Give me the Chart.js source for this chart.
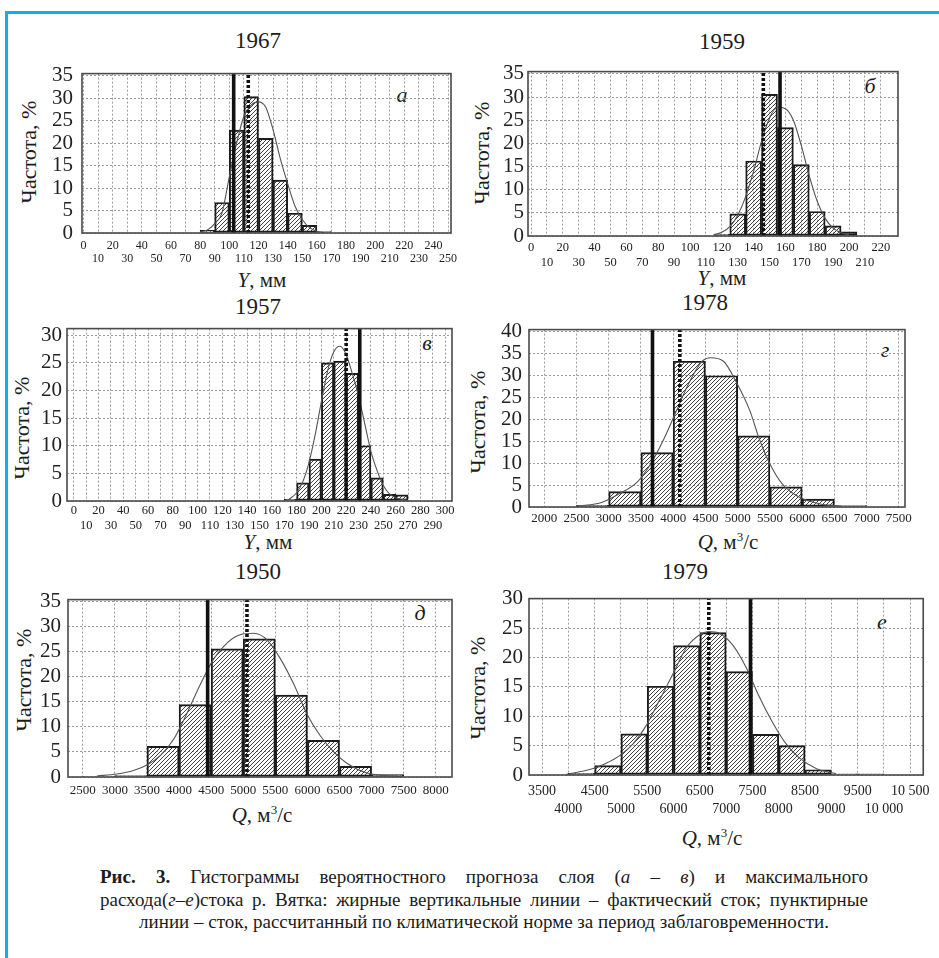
<!DOCTYPE html>
<html>
<head>
<meta charset="utf-8">
<script src="https://cdn.jsdelivr.net/npm/chart.js@4.4.1/dist/chart.umd.min.js"></script>
<style>
  body { margin: 0; width: 939px; height: 958px; overflow: hidden; position: relative; background: #fff;
         font-family: "Liberation Serif", "Times New Roman", serif; color: #1c1c1c; }
  .t { position: absolute; transform: translate(-50%, -50%); white-space: nowrap; }
  .yt { position: absolute; transform: translate(-50%, -50%) rotate(-90deg); white-space: nowrap; font-size: 22px; }
  .ttl { font-size: 23px; }
  .xt { font-size: 21px; }
  .xt sup { font-size: 0.62em; }
  .lt { font-size: 22px; font-style: italic; }
  .cap { position: absolute; left: 100px; width: 768px; top: 866px; font-size: 19px; line-height: 22.5px; }
  .cap .j { text-align: justify; text-align-last: justify; }
  .cap .m { text-align: center; }
  .blue { position: absolute; background: #0cb0ec; }
</style>
</head>
<body>
<div class="blue" style="left:5px;top:11px;width:934px;height:3px"></div>
<div class="blue" style="left:5px;top:11px;width:3px;height:947px"></div>

<div class="t ttl" style="left:258px;top:41px">1967</div>
<div class="t ttl" style="left:722px;top:42px">1959</div>
<div class="t ttl" style="left:258px;top:307px">1957</div>
<div class="t ttl" style="left:705px;top:303px">1978</div>
<div class="t ttl" style="left:258px;top:572px">1950</div>
<div class="t ttl" style="left:685px;top:572px">1979</div>

<div class="yt" style="left:29px;top:152px">Частота, %</div>
<div class="yt" style="left:482px;top:153px">Частота, %</div>
<div class="yt" style="left:22px;top:428px">Частота, %</div>
<div class="yt" style="left:478px;top:422px">Частота, %</div>
<div class="yt" style="left:24px;top:680px">Частота, %</div>
<div class="yt" style="left:478px;top:688px">Частота, %</div>

<div class="t xt" style="left:262px;top:280px"><i>Y</i>, мм</div>
<div class="t xt" style="left:722px;top:278px"><i>Y</i>, мм</div>
<div class="t xt" style="left:268px;top:542px"><i>Y</i>, мм</div>
<div class="t xt" style="left:728px;top:542px"><i>Q</i>, м<sup>3</sup>/с</div>
<div class="t xt" style="left:262px;top:815px"><i>Q</i>, м<sup>3</sup>/с</div>
<div class="t xt" style="left:712px;top:838px"><i>Q</i>, м<sup>3</sup>/с</div>

<div class="t lt" style="left:402px;top:95px">а</div>
<div class="t lt" style="left:870px;top:86px">б</div>
<div class="t lt" style="left:427px;top:343px">в</div>
<div class="t lt" style="left:885px;top:350px">г</div>
<div class="t lt" style="left:420px;top:613px">д</div>
<div class="t lt" style="left:882px;top:622px">е</div>

<div class="cap">
  <div class="j"><b>Рис. 3.</b> Гистограммы вероятностного прогноза слоя (<i>а</i> – <i>в</i>) и максимального</div>
  <div class="j">расхода(<i>г</i>–<i>е</i>)стока р. Вятка: жирные вертикальные линии – фактический сток; пунктирные</div>
  <div class="m">линии – сток, рассчитанный по климатической норме за период заблаговременности.</div>
</div>

<script>
// ---- данные ----
// а) 1967, слой стока Y, мм
const binsA = [85, 95, 105, 115, 125, 135, 145, 155, 165];
const freqA = [0.6, 6.8, 22.9, 30.4, 21.1, 11.8, 4.4, 1.7, 0.3];
const curveAx = [80, 85, 90, 95, 100, 105, 110, 115, 120, 125, 130, 135, 140, 145, 150, 155, 160, 165];
const curveAy = [0.2, 0.7, 2.1, 4.5, 12.5, 20, 26, 28.5, 29.2, 28, 23, 16.5, 11, 6, 3, 1.2, 0.4, 0.1];
const factA = 103, normA = 113;
const ticksA = [0, 10, 20, 30, 40, 50, 60, 70, 80, 90, 100, 110, 120, 130, 140, 150, 160, 170, 180, 190, 200, 210, 220, 230, 240, 250];

// б) 1959
const binsB = [120, 130, 140, 150, 160, 170, 180, 190, 200];
const freqB = [0.35, 4.8, 16.2, 30.6, 23.4, 15.4, 5.3, 2.2, 0.9];
const curveBx = [115, 120, 125, 130, 135, 140, 145, 150, 155, 160, 165, 170, 175, 180, 185, 190, 195, 200];
const curveBy = [0.3, 0.8, 2, 4.5, 8.5, 14, 20.5, 25.5, 27.8, 27.5, 25, 19.5, 13, 7.5, 3.8, 1.7, 0.7, 0.3];
const factB = 156.6, normB = 146.1;
const ticksB = [0, 10, 20, 30, 40, 50, 60, 70, 80, 90, 100, 110, 120, 130, 140, 150, 160, 170, 180, 190, 200, 210, 220];

// в) 1957
const binsV = [175, 185, 195, 205, 215, 225, 235, 245, 255, 265];
const freqV = [0.3, 3.3, 7.6, 25.0, 25.3, 23.1, 10.0, 4.2, 1.2, 1.1];
const curveVx = [172, 175, 180, 185, 190, 195, 200, 205, 210, 215, 220, 225, 230, 235, 240, 245, 250, 255, 260, 265, 270];
const curveVy = [0.1, 0.5, 1.5, 3.5, 7, 12, 18, 23.5, 27, 28, 26.5, 23, 19, 14, 9, 5.5, 2.8, 1.3, 0.6, 0.3, 0.1];
const factV = 231, normV = 220;
const ticksV = [0, 10, 20, 30, 40, 50, 60, 70, 80, 90, 100, 110, 120, 130, 140, 150, 160, 170, 180, 190, 200, 210, 220, 230, 240, 250, 260, 270, 280, 290, 300];

// г) 1978, максимальный расход Q, м3/с
const binsG = [2750, 3250, 3750, 4250, 4750, 5250, 5750, 6250, 6750];
const freqG = [0.4, 3.5, 12.4, 33.2, 29.9, 16.2, 4.6, 1.8, 0.35];
const curveGx = [2500, 2900, 3150, 3450, 3650, 3850, 4050, 4250, 4450, 4580, 4780, 4980, 5190, 5340, 5500, 5700, 5960, 6280, 6600];
const curveGy = [0.15, 1.1, 2.9, 5.8, 9.8, 15.3, 21.9, 28.4, 33.2, 34, 33.2, 28.4, 21.9, 15.3, 9.8, 5.1, 2.2, 0.7, 0.2];
const factG = 3679, normG = 4103;
const ticksG = [2000, 2500, 3000, 3500, 4000, 4500, 5000, 5500, 6000, 6500, 7000, 7500];

// д) 1950
const binsD = [2750, 3250, 3750, 4250, 4750, 5250, 5750, 6250, 6750, 7250];
const freqD = [0.15, 0.3, 6.1, 14.4, 25.5, 27.5, 16.3, 7.3, 2.1, 0.5];
const curveDx = [2720, 3030, 3290, 3500, 3710, 3915, 4120, 4330, 4540, 4750, 4950, 5160, 5370, 5580, 5790, 5990, 6200, 6410, 6620, 6930, 7450];
const curveDy = [0.2, 0.6, 1.3, 2.4, 4.3, 7.5, 12.6, 18.4, 23.5, 26.7, 28.3, 28.6, 27.3, 23.5, 18.4, 12.6, 8.2, 5, 2.7, 0.8, 0.1];
const factD = 4445, normD = 5058;
const ticksD = [2500, 3000, 3500, 4000, 4500, 5000, 5500, 6000, 6500, 7000, 7500, 8000];

// е) 1979
const binsE = [4250, 4750, 5250, 5750, 6250, 6750, 7250, 7750, 8250, 8750, 9250, 9750];
const freqE = [0.3, 1.6, 7.0, 15.1, 22.0, 24.2, 17.6, 6.9, 5.0, 0.9, 0.2, 0.2];
const curveEx = [3960, 4215, 4470, 4720, 4975, 5230, 5480, 5735, 5990, 6240, 6490, 6680, 6870, 7125, 7380, 7630, 7885, 8140, 8390, 8710, 9090];
const curveEy = [0.1, 0.55, 1.1, 2, 3.3, 5.3, 8.4, 12.8, 17.2, 21.6, 23.8, 24.4, 24.1, 22.1, 18.3, 13.3, 8.9, 5.3, 2.9, 1.1, 0.2];
const factE = 7462, normE = 6670;
const ticksE = [3500, 4000, 4500, 5000, 5500, 6000, 6500, 7000, 7500, 8000, 8500, 9000, 9500, 10000, 10500];
const labelsE = ['3500', '4000', '4500', '5000', '5500', '6000', '6500', '7000', '7500', '8000', '8500', '9000', '9500', '10 000', '10 500'];

const yTicks35 = [0, 5, 10, 15, 20, 25, 30, 35];
const yTicks30 = [0, 5, 10, 15, 20, 25, 30];
const yTicks40 = [0, 5, 10, 15, 20, 25, 30, 35, 40];

// ---- оформление ----
const FONT = '"Liberation Serif", "Times New Roman", serif';
Chart.defaults.font.family = FONT;

const hatch = (() => {
  const c = document.createElement('canvas');
  c.width = c.height = 4;
  const g = c.getContext('2d');
  g.strokeStyle = '#2e2e2e';
  g.lineWidth = 0.9;
  g.beginPath();
  g.moveTo(0, 4); g.lineTo(4, 0);
  g.moveTo(-1, 1); g.lineTo(1, -1);
  g.moveTo(3, 5); g.lineTo(5, 3);
  g.stroke();
  return g.createPattern(c, 'repeat');
})();

const frame = {
  id: 'frame',
  afterDatasetsDraw(chart) {
    const a = chart.chartArea, ctx = chart.ctx;
    ctx.save();
    ctx.strokeStyle = '#4a4a4a';
    ctx.lineWidth = 1.6;
    ctx.strokeRect(a.left, a.top, a.right - a.left, a.bottom - a.top);
    ctx.restore();
  }
};

function panel(p) {
  const padL = 60, padT = 12, padR = 14, padB = 45;
  const w = Math.round(p.R - p.L + padL + padR), h = Math.round(p.B - p.T + padT + padB);
  const cv = document.createElement('canvas');
  cv.width = w; cv.height = h;
  cv.style.cssText = `position:absolute;left:${p.L - padL}px;top:${p.T - padT}px;width:${w}px;height:${h}px`;
  document.body.appendChild(cv);

  const labels = p.labels || p.ticks.map(String);
  const grid = { color: '#9c9c9c', lineWidth: 1, drawTicks: false, offset: false };
  const vline = (x, dash) => ({
    type: 'line', data: [{ x, y: 0 }, { x, y: p.ymax }], borderColor: '#111', borderWidth: 3.6,
    borderDash: dash, pointRadius: 0, order: 1
  });

  new Chart(cv, {
    type: 'bar',
    data: {
      datasets: [
        { type: 'bar', data: p.bins.map((x, i) => ({ x, y: p.freq[i] })), backgroundColor: hatch,
          borderColor: '#1a1a1a', borderWidth: 1.3, borderSkipped: false, barPercentage: 1, categoryPercentage: 1, order: 3 },
        { type: 'line', data: p.cx.map((x, i) => ({ x, y: p.cy[i] })), borderColor: '#555', borderWidth: 1.1,
          pointRadius: 0, cubicInterpolationMode: 'monotone', order: 2 },
        vline(p.fact, []),
        vline(p.norm, [3, 2])
      ]
    },
    options: {
      responsive: false, animation: false, devicePixelRatio: 1,
      layout: { padding: { top: padT, right: padR, left: 0, bottom: 0 } },
      plugins: { legend: { display: false }, tooltip: { enabled: false } },
      scales: {
        x: {
          type: 'linear', min: p.xmin, max: p.xmax, offset: false,
          afterBuildTicks: s => { s.ticks = p.ticks.map(v => ({ value: v })); },
          afterFit: s => { s.height = padB; },
          ticks: {
            autoSkip: false, maxRotation: 0, minRotation: 0, padding: p.xpad, color: '#222',
            font: { size: p.xfs, lineHeight: p.xlh },
            callback: (v, i) => (p.two && i % 2) ? ['', labels[i]] : labels[i]
          },
          grid, border: { display: false, dash: [2, 2] }
        },
        y: {
          min: 0, max: p.ymax,
          afterBuildTicks: s => { s.ticks = p.yticks.map(v => ({ value: v })); },
          afterFit: s => { s.width = padL; },
          ticks: { autoSkip: false, padding: p.ypad, color: '#222', font: { size: 21 } },
          grid, border: { display: false, dash: [2, 2] }
        }
      }
    },
    plugins: [frame]
  });
}

panel({ L: 82, R: 451, T: 63.5, B: 232, xmin: -1, xmax: 252, ymax: 35.5, yticks: yTicks35,
        bins: binsA, freq: freqA, cx: curveAx, cy: curveAy, fact: factA, norm: normA,
        ticks: ticksA, two: true, xfs: 12, xlh: 1.08, xpad: 6, ypad: 9 });
panel({ L: 528, R: 898, T: 66.5, B: 235, xmin: -1.9, xmax: 230.8, ymax: 35.5, yticks: yTicks35,
        bins: binsB, freq: freqB, cx: curveBx, cy: curveBy, fact: factB, norm: normB,
        ticks: ticksB, two: true, xfs: 12.5, xlh: 1.2, xpad: 4, ypad: 4 });
panel({ L: 67, R: 452, T: 322.5, B: 500.5, xmin: -5.5, xmax: 305.5, ymax: 31.2, yticks: yTicks30,
        bins: binsV, freq: freqV, cx: curveVx, cy: curveVy, fact: factV, norm: normV,
        ticks: ticksV, two: true, xfs: 12.5, xlh: 1.2, xpad: 2, ypad: 5 });
panel({ L: 529, R: 905, T: 321.5, B: 506.5, xmin: 1764, xmax: 7595, ymax: 40.4, yticks: yTicks40,
        bins: binsG, freq: freqG, cx: curveGx, cy: curveGy, fact: factG, norm: normG,
        ticks: ticksG, two: false, xfs: 13, xlh: 1, xpad: 5, ypad: 7 });
panel({ L: 68, R: 452, T: 591.5, B: 776, xmin: 2269, xmax: 8253, ymax: 35.3, yticks: yTicks35,
        bins: binsD, freq: freqD, cx: curveDx, cy: curveDy, fact: factD, norm: normD,
        ticks: ticksD, two: false, xfs: 13, xlh: 1, xpad: 7, ypad: 7 });
panel({ L: 529, R: 924, T: 591.5, B: 774, xmin: 3252, xmax: 10746, ymax: 30, yticks: yTicks30,
        bins: binsE, freq: freqE, cx: curveEx, cy: curveEy, fact: factE, norm: normE,
        ticks: ticksE, labels: labelsE, two: true, xfs: 14, xlh: 1.24, xpad: 8, ypad: 6 });
</script>
</body>
</html>
